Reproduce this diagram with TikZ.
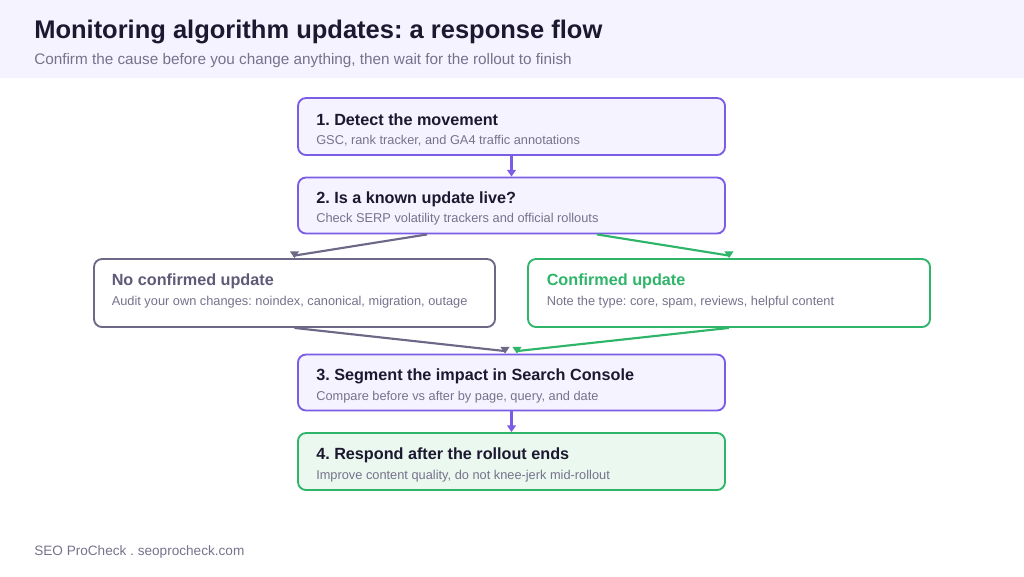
\documentclass[tikz,border=0pt]{standalone}
\usepackage{fontspec}
\setmainfont{Liberation Sans}
\usetikzlibrary{arrows.meta}
\definecolor{band}{HTML}{F5F3FF}
\definecolor{purp}{HTML}{7B5CE5}
\definecolor{pfill}{HTML}{F5F3FF}
\definecolor{grayb}{HTML}{6E6887}
\definecolor{grayt}{HTML}{5F5A78}
\definecolor{grn}{HTML}{2FB56A}
\definecolor{gfill}{HTML}{EAF8EF}
\definecolor{dark}{HTML}{1C1830}
\definecolor{subg}{HTML}{77728C}
\newcommand{\px}[1]{\fontsize{#1\dimexpr0.75pt\relax}{#1\dimexpr0.9pt\relax}\selectfont}
\frenchspacing
\tikzset{
  box/.style={draw, rounded corners=6pt, line width=1.4pt, inner sep=0pt},
  pbox/.style={box, draw=purp, fill=pfill},
  gbox/.style={box, draw=grayb, fill=white},
  grbox/.style={box, draw=grn, fill=white},
  fbox/.style={box, draw=grn, fill=gfill},
  ttl/.style={anchor=base west, inner sep=0pt, text=dark, font=\px{16.2}\bfseries},
  sub/.style={anchor=base west, inner sep=0pt, text=subg, font=\px{12.8}},
  conn/.style={line width=1.6pt, -{Triangle[width=6.5pt,length=5pt]}},
}
\begin{document}
\begin{tikzpicture}[x=0.75pt,y=-0.75pt]
\useasboundingbox (0,0) rectangle (1024,576);
\fill[band] (0,0) rectangle (1024,78);
\node[anchor=base west, inner sep=0pt, text=dark, font=\px{25.5}\bfseries] (title) at (34,38) {Monitoring algorithm updates: a response flow};
\node[anchor=base west, inner sep=0pt, text=subg, font=\px{15.3}] (subtitle) at (34,64) {Confirm the cause before you change anything, then wait for the rollout to finish};

\node[pbox, minimum width=427*0.75pt, minimum height=57*0.75pt] (b1) at (511.5,126.5) {};
\node[ttl] (b1t) at (316,125) {1. Detect the movement};
\node[sub] (b1s) at (316,144) {GSC, rank tracker, and GA4 traffic annotations};

\node[pbox, minimum width=427*0.75pt, minimum height=56*0.75pt] (b2) at (511.5,205.5) {};
\node[ttl] (b2t) at (316,203) {2. Is a known update live?};
\node[sub] (b2s) at (316,222.5) {Check SERP volatility trackers and official rollouts};

\node[gbox, minimum width=401*0.75pt, minimum height=68*0.75pt] (bl) at (294.5,293) {};
\node[ttl, text=grayt] (blt) at (111.5,285) {No confirmed update};
\node[sub] (bls) at (111.5,305) {Audit your own changes: noindex, canonical, migration, outage};

\node[grbox, minimum width=402*0.75pt, minimum height=68*0.75pt] (br) at (729,293) {};
\node[ttl, text=grn] (brt) at (546.5,285) {Confirmed update};
\node[sub] (brs) at (546.5,305) {Note the type: core, spam, reviews, helpful content};

\node[pbox, minimum width=427*0.75pt, minimum height=56*0.75pt] (b3) at (511.5,382.5) {};
\node[ttl] (b3t) at (316,380) {3. Segment the impact in Search Console};
\node[sub] (b3s) at (316,400.5) {Compare before vs after by page, query, and date};

\node[fbox, minimum width=427*0.75pt, minimum height=57*0.75pt] (b4) at (511.5,461.5) {};
\node[ttl] (b4t) at (316,459) {4. Respond after the rollout ends};
\node[sub] (b4s) at (316,479) {Improve content quality, do not knee-jerk mid-rollout};

\node[anchor=base west, inner sep=0pt, text=subg, font=\px{13.6}] (foot) at (34,555) {SEO ProCheck . seoprocheck.com};

\draw[conn, purp] (b1.south) -- (b2.north);
\draw[conn, grayb] ([xshift=-84.5*0.75pt]b2.south) -- ([yshift=2.5*0.75pt]bl.north) -- (bl.north);
\draw[conn, grn] ([xshift=85.5*0.75pt]b2.south) -- ([yshift=2.5*0.75pt]br.north) -- (br.north);
\draw[conn, grayb] (bl.south) -- ([xshift=-6.5*0.75pt,yshift=2.5*0.75pt]b3.north) -- ([xshift=-6.5*0.75pt]b3.north);
\draw[conn, grn] (br.south) -- ([xshift=5.5*0.75pt,yshift=2.5*0.75pt]b3.north) -- ([xshift=5.5*0.75pt]b3.north);
\draw[conn, purp] (b3.south) -- (b4.north);
\end{tikzpicture}
\end{document}
